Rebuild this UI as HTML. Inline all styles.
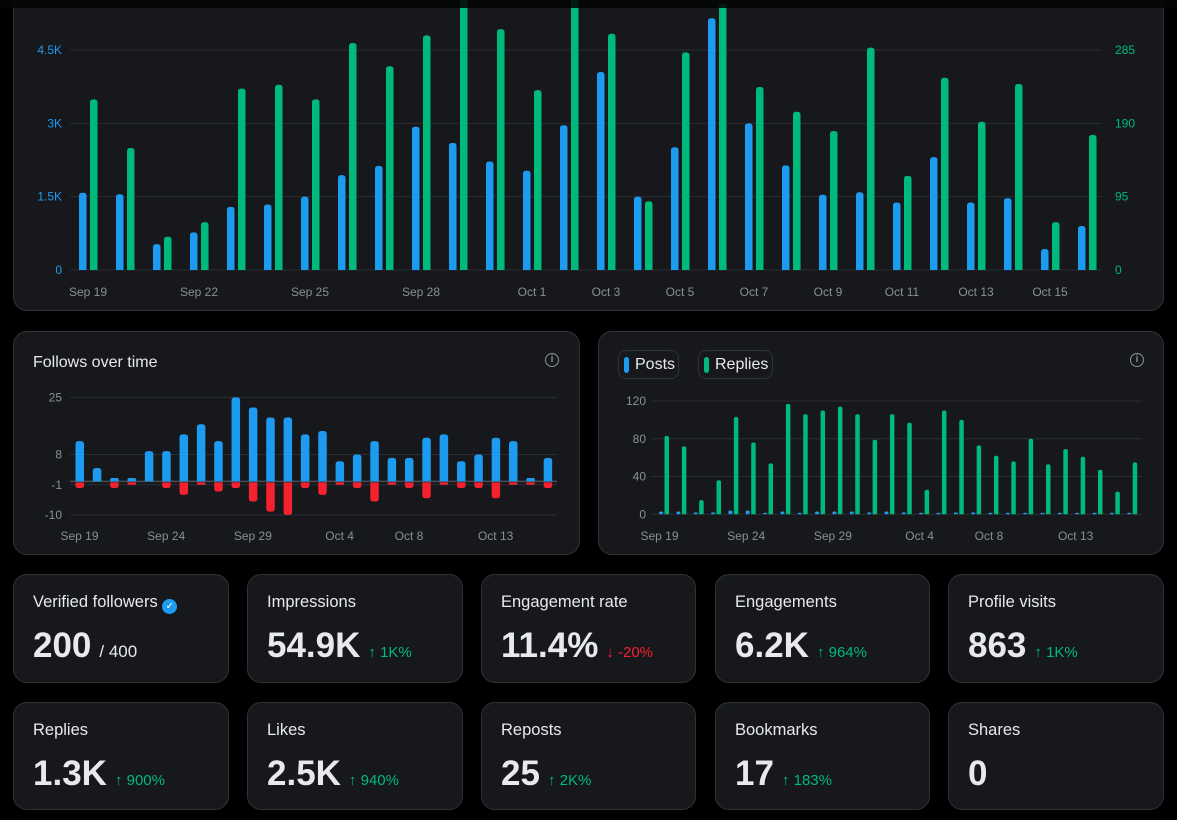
<!DOCTYPE html>
<html><head><meta charset="utf-8"><style>
*{box-sizing:border-box;margin:0;padding:0}
body{width:1177px;height:820px;background:#000;font-family:"Liberation Sans",sans-serif;position:relative;overflow:hidden;color:#e7e9ea}
.card{position:absolute;background:#16181c;border:1px solid #2f3336;border-radius:14px}
.topbar{position:absolute;left:0;top:0;width:1177px;height:8px;background:#050506;opacity:.88}
svg{position:absolute;left:0;top:0}
.title{position:absolute;font-size:16px;color:#e7e9ea}
.stat .t{position:absolute;left:19px;top:18px;font-size:16.5px;color:#e7e9ea;white-space:nowrap}
.stat .v{position:absolute;left:19px;top:51px;font-size:35px;font-weight:bold;color:#e7e9ea;white-space:nowrap}
.stat .c{font-size:15px;font-weight:normal;color:#00ba7c;margin-left:8px}
.stat .c.down{color:#f4212e}
.stat .s{font-size:17px;font-weight:normal;color:#e7e9ea;margin-left:8px}
.info{position:absolute;width:14px;height:14px;border:1.5px solid #8b8f96;border-radius:50%;color:#8b8f96;font-size:10px;line-height:11px;text-align:center;font-weight:bold}
.pill{position:absolute;top:18px;height:29px;border:1px solid #2f3336;border-radius:8px;font-size:16px;line-height:27px;padding-left:16px;color:#e7e9ea}
.pill i{position:absolute;left:5px;top:6px;width:5px;height:16px;border-radius:3px}
</style></head><body>
<div class="card" style="left:13px;top:-20px;width:1151px;height:331px"></div>
<div class="card" style="left:13px;top:331px;width:567px;height:224px">
<div class="title" style="left:19px;top:22px">Follows over time</div>
<div class="info" style="left:531px;top:21px">i</div>
</div>
<div class="card" style="left:598px;top:331px;width:566px;height:224px">
<div class="pill" style="left:19px;width:61px"><i style="background:#1d9bf0"></i>Posts</div>
<div class="pill" style="left:99px;width:75px"><i style="background:#00ba7c"></i>Replies</div>
<div class="info" style="left:531px;top:21px">i</div>
</div>
<svg id="chart" width="1177" height="820"></svg>
<div class="topbar"></div>

<div class="card stat" style="left:13px;top:574px;width:216px;height:109px"><div class="t">Verified followers <span style="display:inline-block;width:15px;height:15px;border-radius:50%;background:#1d9bf0;color:#fff;font-size:10px;text-align:center;line-height:15px;vertical-align:-2px">✓</span></div><div class="v">200<span class="s">/ 400</span></div></div>
<div class="card stat" style="left:247px;top:574px;width:216px;height:109px"><div class="t">Impressions</div><div class="v">54.9K<span class="c">↑ 1K%</span></div></div>
<div class="card stat" style="left:481px;top:574px;width:215px;height:109px"><div class="t">Engagement rate</div><div class="v">11.4%<span class="c down">↓ -20%</span></div></div>
<div class="card stat" style="left:715px;top:574px;width:215px;height:109px"><div class="t">Engagements</div><div class="v">6.2K<span class="c">↑ 964%</span></div></div>
<div class="card stat" style="left:948px;top:574px;width:216px;height:109px"><div class="t">Profile visits</div><div class="v">863<span class="c">↑ 1K%</span></div></div>
<div class="card stat" style="left:13px;top:702px;width:216px;height:108px"><div class="t">Replies</div><div class="v">1.3K<span class="c">↑ 900%</span></div></div>
<div class="card stat" style="left:247px;top:702px;width:216px;height:108px"><div class="t">Likes</div><div class="v">2.5K<span class="c">↑ 940%</span></div></div>
<div class="card stat" style="left:481px;top:702px;width:215px;height:108px"><div class="t">Reposts</div><div class="v">25<span class="c">↑ 2K%</span></div></div>
<div class="card stat" style="left:715px;top:702px;width:215px;height:108px"><div class="t">Bookmarks</div><div class="v">17<span class="c">↑ 183%</span></div></div>
<div class="card stat" style="left:948px;top:702px;width:216px;height:108px"><div class="t">Shares</div><div class="v">0</div></div>

<script>
const days=["Sep 19","Sep 20","Sep 21","Sep 22","Sep 23","Sep 24","Sep 25","Sep 26","Sep 27","Sep 28","Sep 29","Sep 30","Oct 1","Oct 2","Oct 3","Oct 4","Oct 5","Oct 6","Oct 7","Oct 8","Oct 9","Oct 10","Oct 11","Oct 12","Oct 13","Oct 14","Oct 15","Oct 16"];
const impressions=[1.58,1.55,0.53,0.77,1.29,1.34,1.5,1.94,2.13,2.93,2.6,2.22,2.03,2.96,4.05,1.5,2.51,5.15,3.0,2.14,1.54,1.59,1.38,2.31,1.38,1.47,0.43,0.9];
const engagements=[221,158,43,62,235,240,221,294,264,304,360,312,233,360,306,89,282,345,237,205,180,288,122,249,192,241,62,175];
const topLeftTicks=[0,1.5,3,4.5];
const topLeftLabels=["0","1.5K","3K","4.5K"];
const topRightTicks=[0,95,190,285];
const topXLabelIdx=[0,3,6,9,12,14,16,18,20,22,24,26];
const followsGained=[12,4,1,1,9,9,14,17,12,25,22,19,19,14,15,6,8,12,7,7,13,14,6,8,13,12,1,7];
const followsLost=[2,0,2,1,0,2,4,1,3,2,6,9,10,2,4,1,2,6,1,2,5,1,2,2,5,1,1,2];
const followTicks=[25,8,-1,-10];
const followXLabelIdx=[0,5,10,15,19,24];
const posts=[3,3,2,2,4,4,1,3,1,3,3,3,2,3,2,0,1,2,2,1,1,1,0,0,0,0,0,0];
const replies=[83,72,15,36,103,76,54,117,106,110,114,106,79,106,97,26,110,100,73,62,56,80,53,69,61,47,24,55];
const prTicks=[0,40,80,120];
const prXLabelIdx=[0,5,10,15,19,24];

const svg=document.getElementById('chart');
const NS='http://www.w3.org/2000/svg';
function mk(tag,attrs,parent){const e=document.createElementNS(NS,tag);for(const k in attrs)e.setAttribute(k,attrs[k]);(parent||svg).appendChild(e);return e;}
function txt(x,y,s,fill,anchor,size){const t=mk('text',{x:x,y:y,fill:fill,'text-anchor':anchor,'font-size':size||12,'font-family':'Liberation Sans, sans-serif'});t.textContent=s;return t;}
function bar(x,y0,y1,w,r){
  const h=y0-y1; if(h<=0) return null; r=Math.min(r,h/2,w/2);
  return `M${x},${y0}V${y1+r}Q${x},${y1} ${x+r},${y1}H${x+w-r}Q${x+w},${y1} ${x+w},${y1+r}V${y0}Z`;}
function barDown(x,y0,y1,w,r){ const h=y1-y0; if(h<=0) return null; r=Math.min(r,h/2,w/2);
  return `M${x},${y0}V${y1-r}Q${x},${y1} ${x+r},${y1}H${x+w-r}Q${x+w},${y1} ${x+w},${y1-r}V${y0}Z`;}

// ---- top chart
const tY0=270,tY1=50;
const yL=v=>tY0-(v/4.5)*(tY0-tY1);
const yR=v=>tY0-(v/285)*(tY0-tY1);
const xT=i=>79+37*i;
topLeftTicks.forEach((t,k)=>{
  const g=mk('line',{x1:70,x2:1102,y1:yL(t),y2:yL(t),stroke:'#2a2d32','stroke-width':1});
  
  
  const l=txt(62,yL(t)+4,topLeftLabels[k],'#1d9bf0','end');
  
  
});
topRightTicks.forEach(t=>{
  const l=txt(1115,yR(t)+4,String(t),'#00ba7c','start');
  
  
});
days.forEach((d,i)=>{
  const pb=bar(xT(i),tY0,yL(impressions[i]),7.5,3);
  if(pb){const b=mk('path',{d:pb,fill:'#1d9bf0'});
  
  }
  const pg=bar(xT(i)+11,tY0,Math.max(yR(engagements[i]),-5),7.5,3);
  if(pg){const b=mk('path',{d:pg,fill:'#00ba7c'});
  
  }
});
topXLabelIdx.forEach(i=>{
  const l=txt(xT(i)+9,296,days[i],'#8b8f96','middle');
  
  
});

// ---- follows chart
const fZero=481.4,fPx=3.36;
const yF=v=>fZero-v*fPx;
const xF=i=>75.5+17.34*i;
followTicks.forEach(t=>{
  const g=mk('line',{x1:70,x2:557,y1:yF(t),y2:yF(t),stroke:'#2a2d32','stroke-width':1});
  
  
  const l=txt(62,yF(t)+4,String(t),'#8b8f96','end');
  
  
});
mk('line',{x1:70,x2:557,y1:fZero,y2:fZero,stroke:'#4a4d52','stroke-width':1.5});
days.forEach((d,i)=>{
  const pb=bar(xF(i),fZero,yF(followsGained[i]),8.5,3);
  if(pb){const b=mk('path',{d:pb,fill:'#1d9bf0'});
  
  }
  const pr=barDown(xF(i),fZero+1,yF(-followsLost[i]),8.5,3);
  if(pr){const b=mk('path',{d:pr,fill:'#f4212e'});
  
  }
});
followXLabelIdx.forEach(i=>{
  const l=txt(xF(i)+4,540,days[i],'#8b8f96','middle');
  
  
});

// ---- posts & replies chart
const pZero=514.3,pPx=113.3/120;
const yP=v=>pZero-v*pPx;
const xP=i=>659+17.34*i;
prTicks.forEach(t=>{
  const g=mk('line',{x1:652,x2:1142,y1:yP(t),y2:yP(t),stroke:'#2a2d32','stroke-width':1});
  
  
  const l=txt(646,yP(t)+4,String(t),'#8b8f96','end');
  
  
});
days.forEach((d,i)=>{
  const h=Math.max(posts[i]*pPx,1.5);
  const b=mk('rect',{x:xP(i),y:pZero-h,width:4,height:h,rx:1.5,fill:'#1d9bf0'});
  
  
  const pg=bar(xP(i)+5.5,pZero,yP(replies[i]),4.5,2);
  if(pg){const g=mk('path',{d:pg,fill:'#00ba7c'});
  
  }
});
prXLabelIdx.forEach(i=>{
  const l=txt(xP(i)+0.5,540,days[i],'#8b8f96','middle');
  
  
});
</script>
</body></html>
